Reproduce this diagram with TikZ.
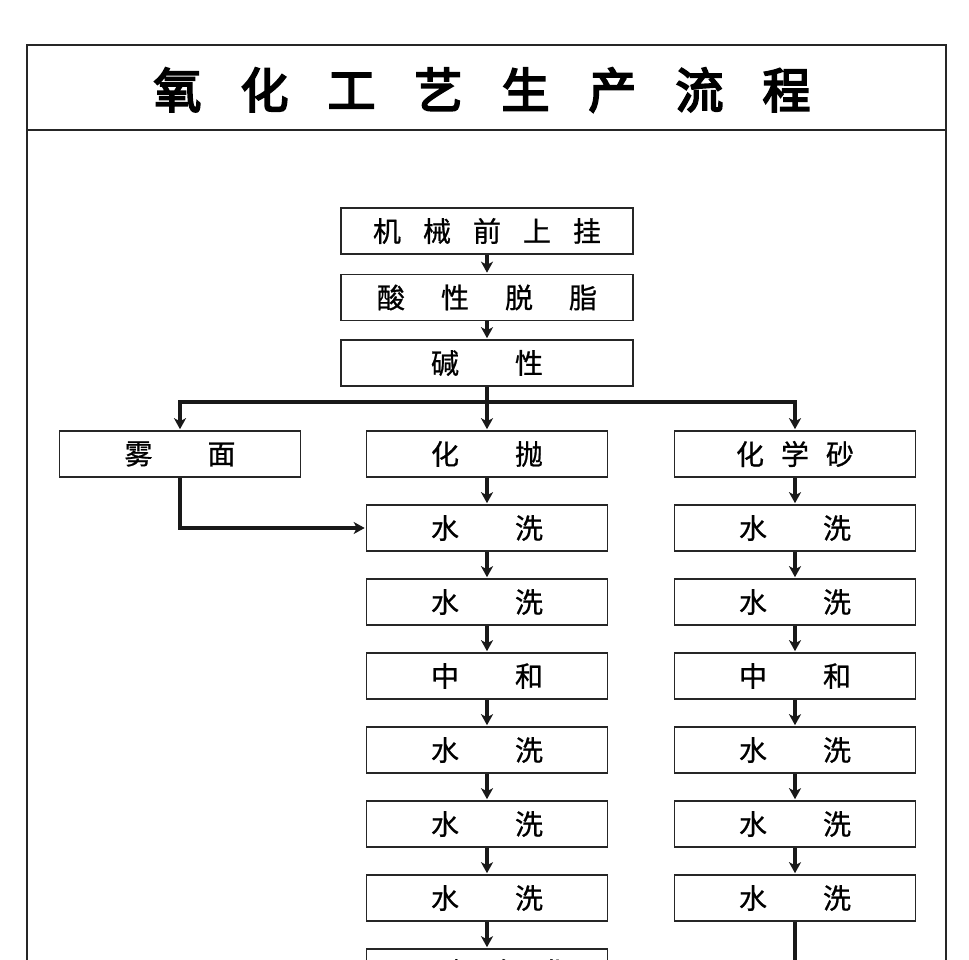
\documentclass[tikz,border=0pt]{standalone}
\usepackage{fontspec}
\usetikzlibrary{arrows.meta}
\newfontfamily\cjk{Noto Sans CJK SC}[FakeBold=0.8]
\newfontfamily\cjktitle{Noto Sans CJK SC}[FakeBold=4]
\newcommand{\gapx}[1]{\hspace{#1pt}}
\begin{document}
\begin{tikzpicture}[x=1pt,y=-1pt,
  frame/.style={draw=black!85, line width=1.5pt},
  box/.style={draw=black!85, line width=1.6pt, minimum height=46pt, inner sep=0pt,
    font=\cjk\fontsize{28}{28}\selectfont},
  topbox/.style={box, minimum width=292pt},
  colbox/.style={box, minimum width=241pt},
  conn/.style={draw=black!90, line width=3.4pt},
  arr/.style={conn, -{Stealth[length=11pt,width=12pt,inset=3pt]}, shorten >=1pt}]
\clip (0,0) rectangle (969,960);
\fill[white] (0,0) rectangle (969,960);
% frame
\draw[frame] (27,975) -- (27,45) -- (946,45) -- (946,975);
\draw[frame] (27,130) -- (946,130);
\node[font=\cjktitle\fontsize{48}{48}\selectfont, inner sep=0pt] (title) at (482,90)
  {氧\gapx{39}化\gapx{39}工\gapx{39}艺\gapx{39}生\gapx{39}产\gapx{39}流\gapx{39}程};
% top boxes
\node[topbox] (t1) at (487,231) {机\gapx{22}械\gapx{22}前\gapx{22}上\gapx{22}挂};
\node[topbox] (t2) at (487,297.5) {酸\gapx{36}性\gapx{36}脱\gapx{36}脂};
\node[topbox] (t3) at (487,363) {碱\gapx{56}性};
% branch row
\node[colbox] (wu) at (180,454) {雾\gapx{55}面};
\node[colbox] (hp) at (487,454) {化\gapx{56}抛};
\node[colbox] (hx) at (795,454) {化\gapx{17}学\gapx{17}砂};
% middle column
\node[colbox] (m1) at (487,528) {水\gapx{56}洗};
\node[colbox] (m2) at (487,602) {水\gapx{56}洗};
\node[colbox] (m3) at (487,676) {中\gapx{56}和};
\node[colbox] (m4) at (487,750) {水\gapx{56}洗};
\node[colbox] (m5) at (487,824) {水\gapx{56}洗};
\node[colbox] (m6) at (487,898) {水\gapx{56}洗};
\node[colbox] (m7) at (487,972) {阳\gapx{18}极\gapx{18}氧\gapx{18}化};
% right column
\node[colbox] (r1) at (795,528) {水\gapx{56}洗};
\node[colbox] (r2) at (795,602) {水\gapx{56}洗};
\node[colbox] (r3) at (795,676) {中\gapx{56}和};
\node[colbox] (r4) at (795,750) {水\gapx{56}洗};
\node[colbox] (r5) at (795,824) {水\gapx{56}洗};
\node[colbox] (r6) at (795,898) {水\gapx{56}洗};
\coordinate (bus) at (487,402);
\coordinate (rend) at (795,975);
% connectors
\draw[arr] (t1.south) -- (t2.north);
\draw[arr] (t2.south) -- (t3.north);
\draw[arr] (t3.south) -- (hp.north);
\draw[arr] (bus) -| (wu.north);
\draw[arr] (bus) -| (hx.north);
\draw[arr] (wu.south) |- (m1.west);
\draw[arr] (hp.south) -- (m1.north);
\draw[arr] (m1.south) -- (m2.north);
\draw[arr] (m2.south) -- (m3.north);
\draw[arr] (m3.south) -- (m4.north);
\draw[arr] (m4.south) -- (m5.north);
\draw[arr] (m5.south) -- (m6.north);
\draw[arr] (m6.south) -- (m7.north);
\draw[arr] (hx.south) -- (r1.north);
\draw[arr] (r1.south) -- (r2.north);
\draw[arr] (r2.south) -- (r3.north);
\draw[arr] (r3.south) -- (r4.north);
\draw[arr] (r4.south) -- (r5.north);
\draw[arr] (r5.south) -- (r6.north);
\draw[conn] (r6.south) -- (rend);
\end{tikzpicture}
\end{document}
